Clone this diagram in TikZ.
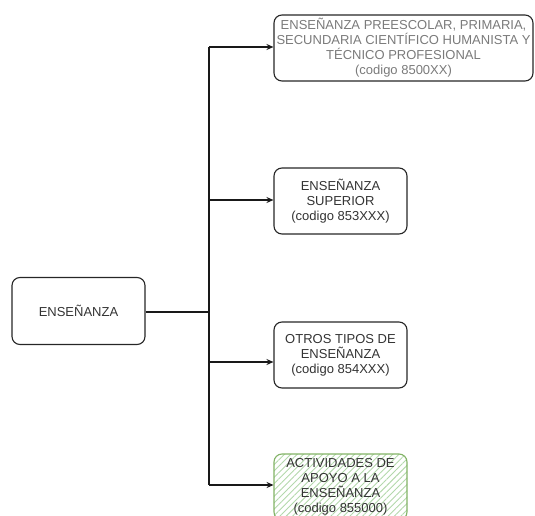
\documentclass[tikz,border=0pt]{standalone}
\usepackage{fontspec}
\setmainfont{Liberation Sans}
\usetikzlibrary{arrows.meta,patterns.meta}
\definecolor{txtdark}{HTML}{333333}
\definecolor{txtgrey}{HTML}{7A7A7A}
\definecolor{gstroke}{HTML}{82B366}
\definecolor{ghatch}{HTML}{B3D8AB}
\begin{document}
\begin{tikzpicture}[x=1pt,y=-1pt,
  box/.style={draw=black!85,line width=1.1pt,rounded corners=8pt,align=center,
    font=\fontsize{13}{15}\selectfont,text=txtdark,inner sep=1pt},
  greenbox/.style={box,draw=gstroke,pattern={Lines[angle=45,distance=4.5pt,line width=0.9pt]},pattern color=ghatch},
  wire/.style={draw=black!90,line width=1.1pt},
  arr/.style={wire,-{Stealth[length=7pt,width=6pt]}}]
\useasboundingbox (0,0) rectangle (535,516);
\clip (0,0) rectangle (535,516);
\node[box,minimum width=133pt,minimum height=67pt] (root) at (78.5,311) {ENSEÑANZA};
\node[box,text=txtgrey,minimum width=259pt,minimum height=66pt] (b1) at (403.5,48)
  {ENSEÑANZA PREESCOLAR, PRIMARIA,\\SECUNDARIA CIENTÍFICO HUMANISTA Y\\TÉCNICO PROFESIONAL\\(codigo 8500XX)};
\node[box,minimum width=133pt,minimum height=66pt] (b2) at (340.5,201)
  {ENSEÑANZA\\SUPERIOR\\(codigo 853XXX)};
\node[box,minimum width=133pt,minimum height=66pt] (b3) at (340.5,355)
  {OTROS TIPOS DE\\ENSEÑANZA\\(codigo 854XXX)};
\node[greenbox,minimum width=133pt,minimum height=66pt] (b4) at (340.5,487)
  {ACTIVIDADES DE\\APOYO A LA\\ENSEÑANZA\\(codigo 855000)};
\coordinate (t1) at (209,47);
\coordinate (t2) at (209,200);
\coordinate (tr) at (209,312);
\coordinate (t3) at (209,362);
\coordinate (t4) at (209,485);
\draw[wire] (t1) -- (t4);
\draw[wire] (root.east |- tr) -- (tr);
\draw[arr] (t1) -- (b1.west |- t1);
\draw[arr] (t2) -- (b2.west |- t2);
\draw[arr] (t3) -- (b3.west |- t3);
\draw[arr] (t4) -- (b4.west |- t4);
\end{tikzpicture}
\end{document}
